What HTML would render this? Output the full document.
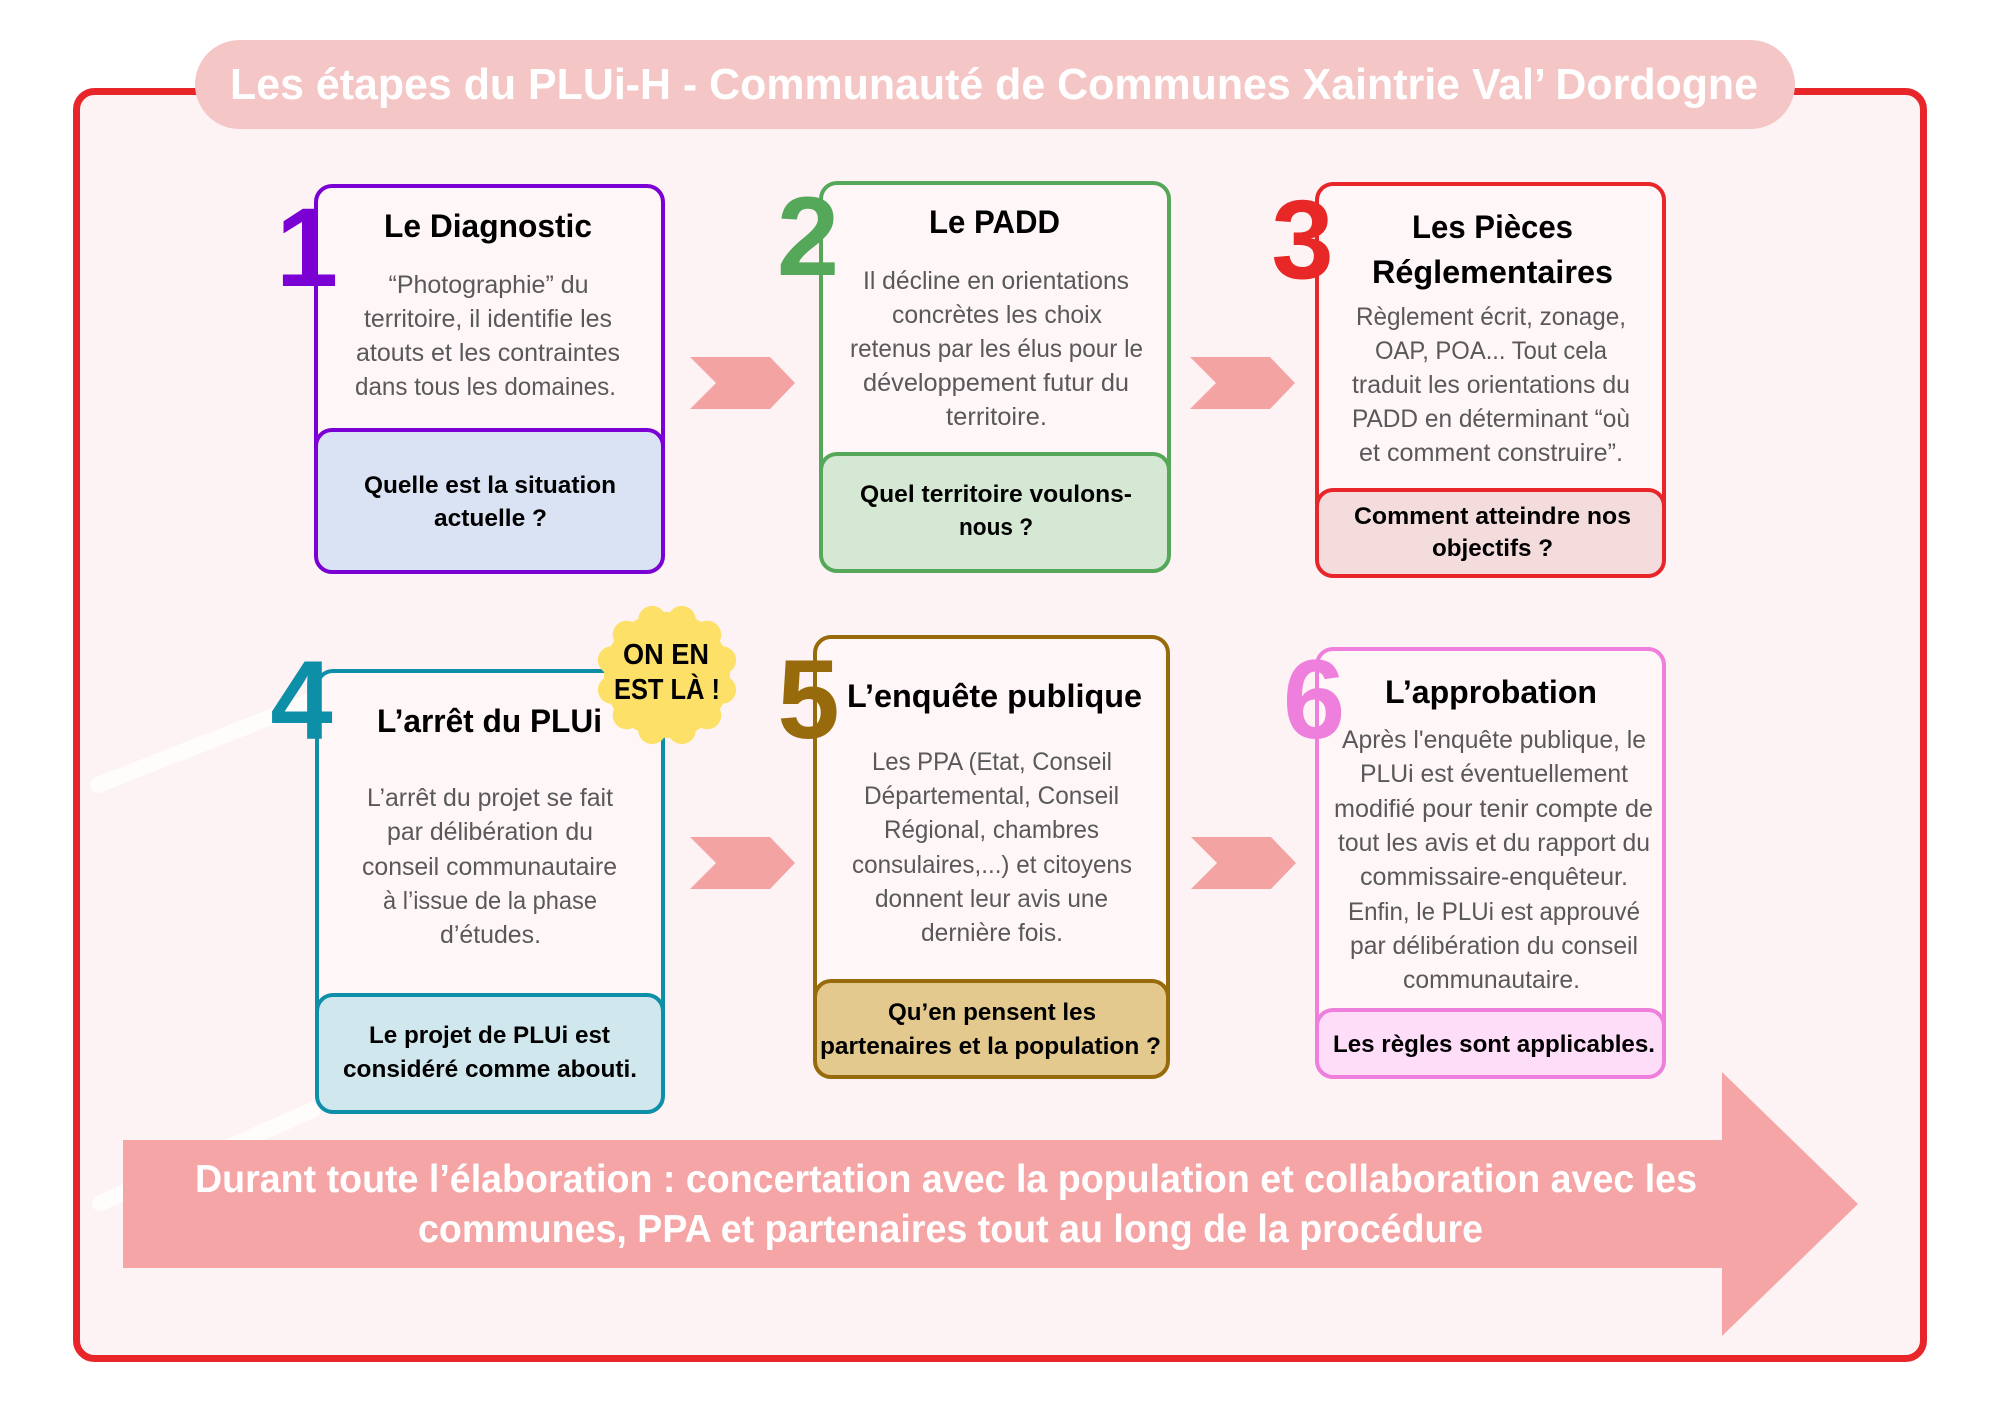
<!DOCTYPE html>
<html>
<head>
<meta charset="utf-8">
<style>
html,body{margin:0;padding:0;background:#ffffff;}
svg{display:block;}
text{font-family:"Liberation Sans", Arial, sans-serif;}
.t{font-weight:bold;font-size:32px;fill:#000;text-anchor:middle;}
.b{font-size:25px;fill:#595959;text-anchor:middle;}
.a{font-weight:bold;font-size:24px;fill:#000;text-anchor:middle;}
.n{font-weight:bold;font-size:112px;text-anchor:middle;}
</style>
</head>
<body>
<svg width="2000" height="1414" viewBox="0 0 2000 1414" xmlns="http://www.w3.org/2000/svg">
  <rect x="0" y="0" width="2000" height="1414" fill="#ffffff"/>
  <!-- main frame -->
  <rect x="76.5" y="91.5" width="1847" height="1267" rx="18" ry="18" fill="#FDF3F4" stroke="#E8262A" stroke-width="7"/>

  <!-- faint decorative lines -->
  <g stroke="#ffffff" stroke-width="16" fill="none" stroke-linecap="round" opacity="0.7">
    <path d="M100 1203 L313 1110"/>
    <path d="M98 785 L314 700"/>
  </g>

  <!-- title pill -->
  <rect x="195" y="40" width="1600" height="89" rx="44.5" ry="44.5" fill="#F5C6C6"/>
  <text x="230" y="99" font-size="44" font-weight="bold" fill="#ffffff" textLength="1528" lengthAdjust="spacingAndGlyphs">Les étapes du PLUi-H - Communauté de Communes Xaintrie Val’ Dordogne</text>

  <!-- chevrons -->
  <g fill="#F4A3A3">
    <polygon points="690,357 770,357 795,383 770,409 690,409 716,383"/>
    <polygon points="1190,357 1270,357 1295,383 1270,409 1190,409 1216,383"/>
    <polygon points="690,837 770,837 795,863 770,889 690,889 716,863"/>
    <polygon points="1191,837 1271,837 1296,863 1271,889 1191,889 1217,863"/>
  </g>

  <!-- big arrow -->
  <polygon points="123,1140 1722,1140 1722,1072 1858,1204 1722,1336 1722,1268 123,1268" fill="#F5A5A5"/>
  <text x="195" y="1192" font-size="39" font-weight="bold" fill="#ffffff" textLength="1502" lengthAdjust="spacingAndGlyphs">Durant toute l’élaboration : concertation avec la population et collaboration avec les</text>
  <text x="418" y="1242" font-size="39" font-weight="bold" fill="#ffffff" textLength="1065" lengthAdjust="spacingAndGlyphs">communes, PPA et partenaires tout au long de la procédure</text>

  <!-- BOX 1 -->
  <rect x="316" y="186" width="347" height="280" rx="16" fill="#FEF6F7" stroke="#7B00D4" stroke-width="4"/>
  <rect x="316" y="430" width="347" height="142" rx="16" fill="#DAE3F3" stroke="#7B00D4" stroke-width="4"/>
  <text class="n" x="307" y="286" fill="#7B00D4">1</text>
  <text class="t" x="488" y="237" textLength="208" lengthAdjust="spacingAndGlyphs">Le Diagnostic</text>
  <text class="b" x="488.5" y="293" textLength="200" lengthAdjust="spacingAndGlyphs">“Photographie” du</text>
  <text class="b" x="488" y="327" textLength="248" lengthAdjust="spacingAndGlyphs">territoire, il identifie les</text>
  <text class="b" x="488" y="361" textLength="264" lengthAdjust="spacingAndGlyphs">atouts et les contraintes</text>
  <text class="b" x="485.5" y="395" textLength="261" lengthAdjust="spacingAndGlyphs">dans tous les domaines.</text>
  <text class="a" x="490" y="493" textLength="252" lengthAdjust="spacingAndGlyphs">Quelle est la situation</text>
  <text class="a" x="490.5" y="526" textLength="113" lengthAdjust="spacingAndGlyphs">actuelle ?</text>

  <!-- BOX 2 -->
  <rect x="821" y="183" width="348" height="300" rx="16" fill="#FEF6F7" stroke="#55A85A" stroke-width="4"/>
  <rect x="821" y="454" width="348" height="117" rx="16" fill="#D5E8D4" stroke="#55A85A" stroke-width="4"/>
  <text class="n" x="808" y="275" fill="#55A85A">2</text>
  <text class="t" x="994.5" y="233" textLength="131" lengthAdjust="spacingAndGlyphs">Le PADD</text>
  <text class="b" x="996" y="289" textLength="266" lengthAdjust="spacingAndGlyphs">Il décline en orientations</text>
  <text class="b" x="997" y="323" textLength="210" lengthAdjust="spacingAndGlyphs">concrètes les choix</text>
  <text class="b" x="996.5" y="357" textLength="293" lengthAdjust="spacingAndGlyphs">retenus par les élus pour le</text>
  <text class="b" x="996" y="391" textLength="266" lengthAdjust="spacingAndGlyphs">développement futur du</text>
  <text class="b" x="996.5" y="425" textLength="101" lengthAdjust="spacingAndGlyphs">territoire.</text>
  <text class="a" x="996" y="502" textLength="272" lengthAdjust="spacingAndGlyphs">Quel territoire voulons-</text>
  <text class="a" x="996" y="535" textLength="74" lengthAdjust="spacingAndGlyphs">nous ?</text>

  <!-- BOX 3 -->
  <rect x="1317" y="184" width="347" height="336" rx="16" fill="#FEF6F7" stroke="#E8262A" stroke-width="4"/>
  <rect x="1317" y="490" width="347" height="86" rx="16" fill="#F4DCDC" stroke="#E8262A" stroke-width="4"/>
  <text class="n" x="1302.5" y="278" fill="#E82727">3</text>
  <text class="t" x="1492.5" y="238" textLength="161" lengthAdjust="spacingAndGlyphs">Les Pièces</text>
  <text class="t" x="1492.5" y="283" textLength="241" lengthAdjust="spacingAndGlyphs">Réglementaires</text>
  <text class="b" x="1491" y="325" textLength="270" lengthAdjust="spacingAndGlyphs">Règlement écrit, zonage,</text>
  <text class="b" x="1491" y="359" textLength="232" lengthAdjust="spacingAndGlyphs">OAP, POA... Tout cela</text>
  <text class="b" x="1491" y="393" textLength="278" lengthAdjust="spacingAndGlyphs">traduit les orientations du</text>
  <text class="b" x="1491" y="427" textLength="278" lengthAdjust="spacingAndGlyphs">PADD en déterminant “où</text>
  <text class="b" x="1491" y="461" textLength="264" lengthAdjust="spacingAndGlyphs">et comment construire”.</text>
  <text class="a" x="1492.5" y="524" textLength="277" lengthAdjust="spacingAndGlyphs">Comment atteindre nos</text>
  <text class="a" x="1492.5" y="556" textLength="121" lengthAdjust="spacingAndGlyphs">objectifs ?</text>

  <!-- BOX 4 -->
  <rect x="317" y="671" width="346" height="354" rx="16" fill="#FEF6F7" stroke="#0E8FA8" stroke-width="4"/>
  <rect x="317" y="995" width="346" height="117" rx="16" fill="#D0E7EE" stroke="#0E8FA8" stroke-width="4"/>
  <text class="n" x="301.5" y="739" fill="#0E8FA8">4</text>
  <text class="t" x="489.5" y="732" textLength="225" lengthAdjust="spacingAndGlyphs">L’arrêt du PLUi</text>
  <text class="b" x="490" y="806" textLength="246" lengthAdjust="spacingAndGlyphs">L’arrêt du projet se fait</text>
  <text class="b" x="490" y="840" textLength="206" lengthAdjust="spacingAndGlyphs">par délibération du</text>
  <text class="b" x="489.5" y="875" textLength="255" lengthAdjust="spacingAndGlyphs">conseil communautaire</text>
  <text class="b" x="490" y="909" textLength="214" lengthAdjust="spacingAndGlyphs">à l’issue de la phase</text>
  <text class="b" x="490.5" y="943" textLength="101" lengthAdjust="spacingAndGlyphs">d’études.</text>
  <text class="a" x="489.5" y="1043" textLength="241" lengthAdjust="spacingAndGlyphs">Le projet de PLUi est</text>
  <text class="a" x="490" y="1077" textLength="294" lengthAdjust="spacingAndGlyphs">considéré comme abouti.</text>

  <!-- badge -->
  <g fill="#FDE068">
    <circle cx="667" cy="675" r="63"/>
    <circle cx="722.1" cy="689.8" r="14"/>
    <circle cx="707.3" cy="715.3" r="14"/>
    <circle cx="681.8" cy="730.1" r="14"/>
    <circle cx="652.2" cy="730.1" r="14"/>
    <circle cx="626.7" cy="715.3" r="14"/>
    <circle cx="611.9" cy="689.8" r="14"/>
    <circle cx="611.9" cy="660.2" r="14"/>
    <circle cx="626.7" cy="634.7" r="14"/>
    <circle cx="652.2" cy="619.9" r="14"/>
    <circle cx="681.8" cy="619.9" r="14"/>
    <circle cx="707.3" cy="634.7" r="14"/>
    <circle cx="722.1" cy="660.2" r="14"/>
  </g>
  <text x="666" y="664" font-size="29" font-weight="bold" fill="#000" text-anchor="middle" textLength="86" lengthAdjust="spacingAndGlyphs">ON EN</text>
  <text x="667" y="699" font-size="29" font-weight="bold" fill="#000" text-anchor="middle" textLength="106" lengthAdjust="spacingAndGlyphs">EST LÀ !</text>

  <!-- BOX 5 -->
  <rect x="815" y="637" width="353" height="374" rx="16" fill="#FEF6F7" stroke="#976B0C" stroke-width="4"/>
  <rect x="815" y="981" width="353" height="96" rx="16" fill="#E3C98E" stroke="#976B0C" stroke-width="4"/>
  <text class="n" x="808.5" y="738" fill="#976B0C">5</text>
  <text class="t" x="994.5" y="707" textLength="295" lengthAdjust="spacingAndGlyphs">L’enquête publique</text>
  <text class="b" x="992" y="770" textLength="240" lengthAdjust="spacingAndGlyphs">Les PPA (Etat, Conseil</text>
  <text class="b" x="991.5" y="804" textLength="255" lengthAdjust="spacingAndGlyphs">Départemental, Conseil</text>
  <text class="b" x="991.5" y="838" textLength="215" lengthAdjust="spacingAndGlyphs">Régional, chambres</text>
  <text class="b" x="992" y="873" textLength="280" lengthAdjust="spacingAndGlyphs">consulaires,...) et citoyens</text>
  <text class="b" x="991.5" y="907" textLength="233" lengthAdjust="spacingAndGlyphs">donnent leur avis une</text>
  <text class="b" x="992" y="941" textLength="142" lengthAdjust="spacingAndGlyphs">dernière fois.</text>
  <text class="a" x="992" y="1020" textLength="208" lengthAdjust="spacingAndGlyphs">Qu’en pensent les</text>
  <text class="a" x="990.5" y="1054" textLength="341" lengthAdjust="spacingAndGlyphs">partenaires et la population ?</text>

  <!-- BOX 6 -->
  <rect x="1317" y="649" width="347" height="391" rx="16" fill="#FEF6F7" stroke="#EE7FDC" stroke-width="4"/>
  <rect x="1317" y="1010" width="347" height="67" rx="16" fill="#FDDDF8" stroke="#EE7FDC" stroke-width="4"/>
  <text class="n" x="1314" y="738" fill="#EE7FDC">6</text>
  <text class="t" x="1491" y="703" textLength="212" lengthAdjust="spacingAndGlyphs">L’approbation</text>
  <text class="b" x="1494" y="748" textLength="304" lengthAdjust="spacingAndGlyphs">Après l'enquête publique, le</text>
  <text class="b" x="1494" y="782" textLength="268" lengthAdjust="spacingAndGlyphs">PLUi est éventuellement</text>
  <text class="b" x="1493.5" y="817" textLength="319" lengthAdjust="spacingAndGlyphs">modifié pour tenir compte de</text>
  <text class="b" x="1494" y="851" textLength="312" lengthAdjust="spacingAndGlyphs">tout les avis et du rapport du</text>
  <text class="b" x="1494" y="885" textLength="268" lengthAdjust="spacingAndGlyphs">commissaire-enquêteur.</text>
  <text class="b" x="1494" y="920" textLength="292" lengthAdjust="spacingAndGlyphs">Enfin, le PLUi est approuvé</text>
  <text class="b" x="1494" y="954" textLength="288" lengthAdjust="spacingAndGlyphs">par délibération du conseil</text>
  <text class="b" x="1491.5" y="988" textLength="177" lengthAdjust="spacingAndGlyphs">communautaire.</text>
  <text class="a" x="1494" y="1052" textLength="322" lengthAdjust="spacingAndGlyphs">Les règles sont applicables.</text>
</svg>
</body>
</html>
